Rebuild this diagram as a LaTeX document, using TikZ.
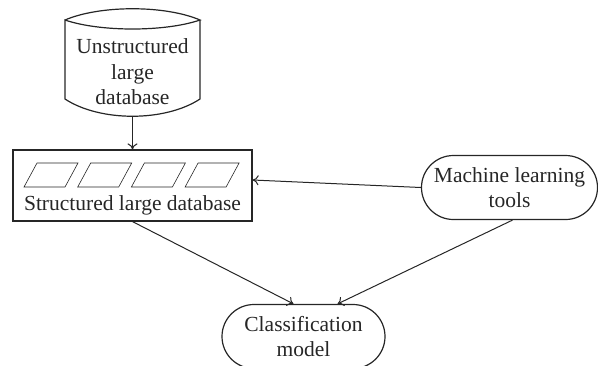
\documentclass[tikz,border=0pt]{standalone}
\usepackage{fontspec}
\setmainfont{Liberation Serif}
\usetikzlibrary{shapes.misc,arrows.meta}

\begin{document}
\begin{tikzpicture}
  [x=1pt, y=-1pt,
   ->,
   >={To[length=6pt,width=10pt]},
   line width=1pt,
   color=black!85,
   txt/.style={font=\fontsize{21.5}{25.5}\selectfont, align=center, inner sep=0pt},
   tool/.style={rounded rectangle, draw, line width=1.2pt, txt, minimum height=64pt},
   sheet/.style={draw, line width=0.6pt, -}
  ]
  \useasboundingbox (0,0) rectangle (598,365);

  % unstructured database (drum with wavy base)
  \node[txt] (udb) at (132.5,72) {Unstructured\\large\\database};
  \draw[-, line width=1.2pt] (65,20) .. controls (100,5) and (165,5) .. (200,20)
           .. controls (165,32) and (100,32) .. (65,20)
           -- (65,99) .. controls (100,122) and (165,122) .. (200,99)
           -- (200,20);
  \coordinate (udbbot) at (132.5,116);

  % structured database
  \node[draw, line width=1.2pt, minimum width=239pt, minimum height=71pt, inner sep=0pt] (sdb) at (132.5,185.5) {};
  \foreach \i in {0,...,3}
    \draw[sheet] ({37+\i*53.7},163) -- ++(41,0) -- ++(-13,24) -- ++(-41,0) -- cycle;
  \node[txt] (sdbtxt) at (132.5,205) {Structured large database};

  \node[tool, minimum width=176pt] (ml)  at (509.5,187.5) {Machine learning\\tools};
  \node[tool, minimum width=163pt] (cls) at (303.5,336.5) {Classification\\model};

  \draw (udbbot) -- (sdb.north);
  \draw (ml.west) -- ([yshift=5.5pt]sdb.east);
  \draw (sdb.south) -- ([xshift=-10pt]cls.north);
  \draw ([xshift=3pt]ml.south) -- ([xshift=34pt]cls.north);
\end{tikzpicture}
\end{document}
